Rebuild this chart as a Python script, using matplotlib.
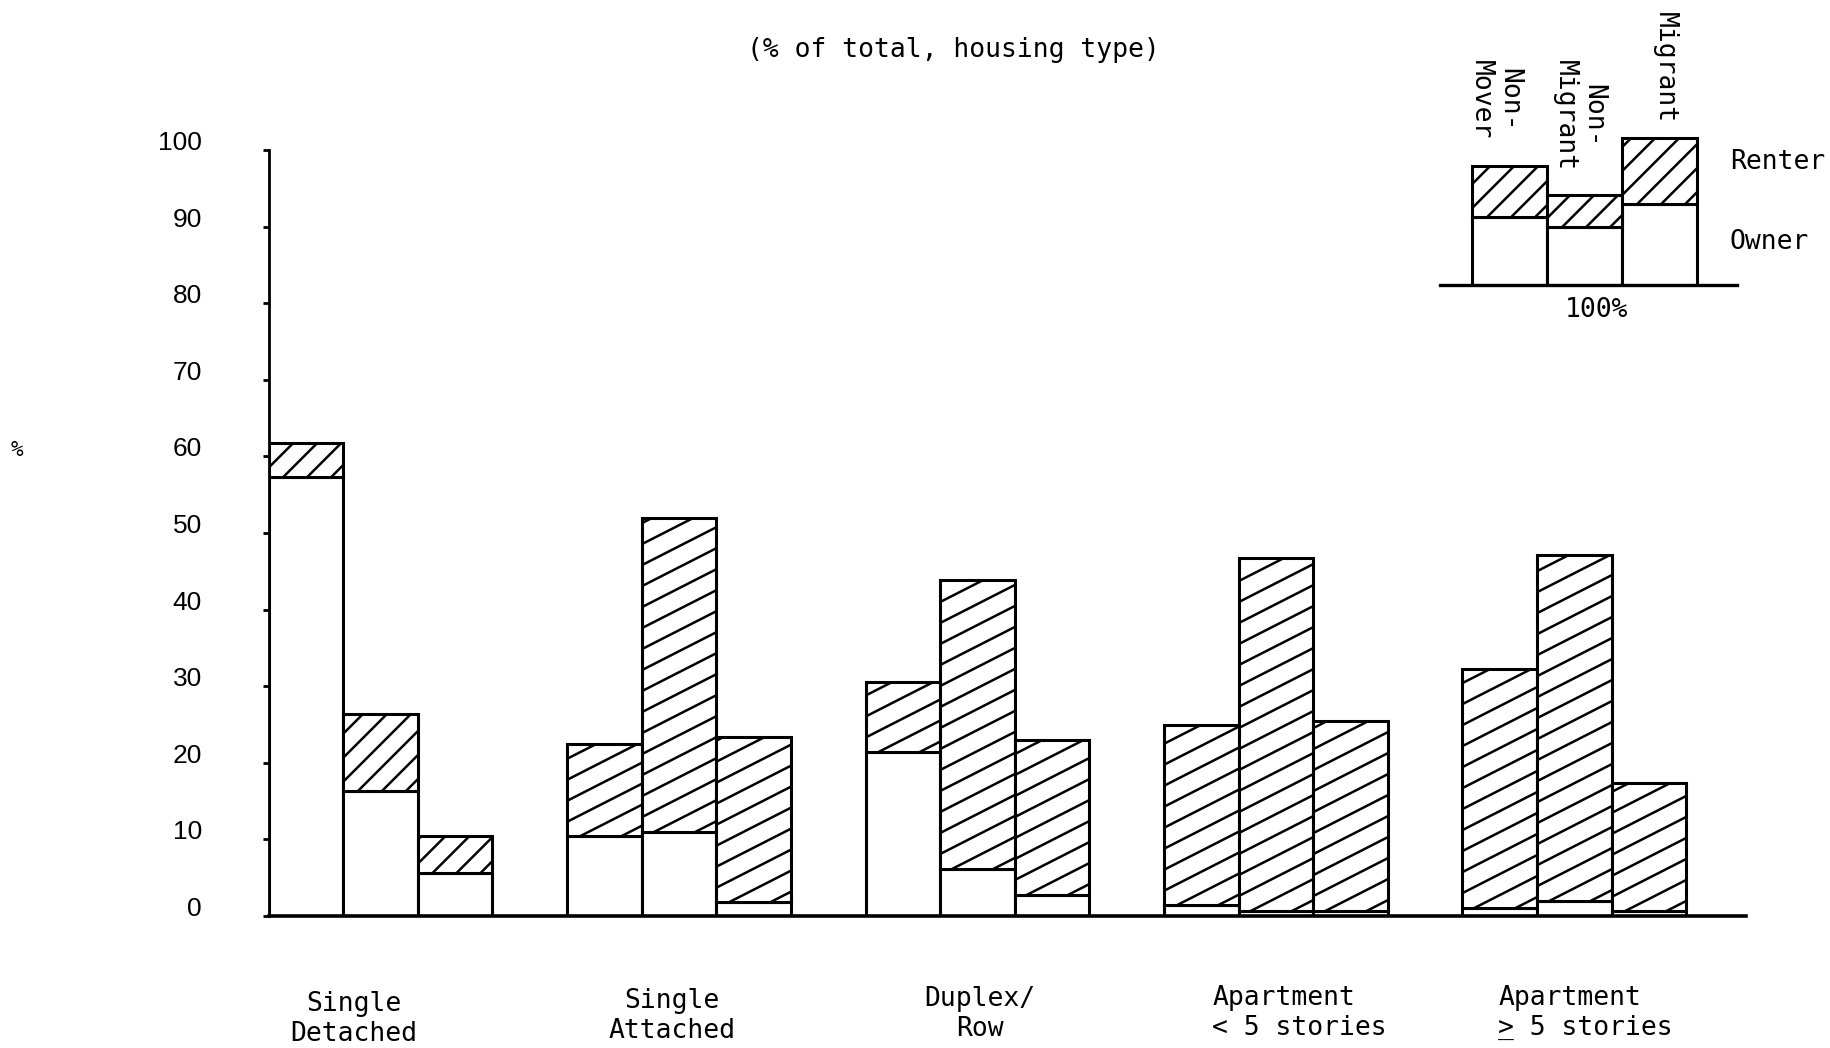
import numpy as np
import matplotlib
matplotlib.use('Agg')
import matplotlib.pyplot as plt
from matplotlib.collections import LineCollection
from matplotlib.transforms import IdentityTransform, blended_transform_factory

# Datos (% del total por tipo de vivienda)
housing_types = ['Single\nDetached', 'Single\nAttached', 'Duplex/\nRow',
                 'Apartment\n< 5 stories', 'Apartment\n> 5 stories']
nonmover_total = [61.8, 22.4, 30.6, 24.9, 32.2]
nonmover_owner = [57.3, 10.4, 21.4, 1.4, 1.1]
nonmigrant_total = [26.4, 51.9, 43.8, 46.7, 47.1]
nonmigrant_owner = [16.3, 11.0, 6.2, 0.7, 2.0]
migrant_total = [10.5, 23.4, 23.0, 25.4, 17.3]
migrant_owner = [5.6, 1.8, 2.8, 0.7, 0.6]
y_ticks = [0, 10, 20, 30, 40, 50, 60, 70, 80, 90, 100]

# Leyenda esquematica
legend_groups = ['Non-\nMover', 'Non-\nMigrant', 'Migrant']
legend_owner = [68, 58, 81]
legend_total = [119, 90, 147]

MONO = 'DejaVu Sans Mono'
W, H = 1831, 1048


def fx(px):
    return px / W


def fy(py):
    return 1 - py / H


def hatch(ax, patch, angle, spacing, lw=1.8):
    # rayado manual, recortado a la barra
    bb = patch.get_window_extent()
    x0, y0, x1, y1 = bb.x0, bb.y0, bb.x1, bb.y1
    t = np.tan(np.radians(angle))
    cs = np.arange(-t * (x1 - x0) + spacing * 0.5, (y1 - y0) + spacing, spacing)
    segs = [[(x0, y0 + c), (x1, y0 + c + t * (x1 - x0))] for c in cs]
    lc = LineCollection(segs, colors='black', linewidths=lw,
                        transform=IdentityTransform())
    ax.add_collection(lc, autolim=False)
    # despues de add_collection, si no se pierde el recorte
    lc.set_clip_path(patch)


fig = plt.figure(figsize=(18.31, 10.48), dpi=100)

# Grafico principal
ax = fig.add_axes([fx(268.6), fy(916), fx(1746) - fx(268.6), (916 - 150) / H])
ax.set_facecolor('none')
ax.set_xlim(0, 19.8)
ax.set_ylim(0, 100)

series = [(nonmover_total, nonmover_owner),
          (nonmigrant_total, nonmigrant_owner),
          (migrant_total, migrant_owner)]
renter_patches = []
for j, (total, owner) in enumerate(series):
    xs = np.arange(len(housing_types)) * 4 + j
    renter = np.array(total) - np.array(owner)
    ax.bar(xs, owner, width=1, align='edge', facecolor='white',
           edgecolor='black', linewidth=2.2)
    bars = ax.bar(xs, renter, bottom=owner, width=1, align='edge',
                  facecolor='white', edgecolor='black', linewidth=2.2)
    for g, b in enumerate(bars):
        renter_patches.append((g, b))

for g, b in renter_patches:
    if g == 0:
        hatch(ax, b, 45, 24)
    else:
        hatch(ax, b, 27, 21)

for s in ['top', 'right']:
    ax.spines[s].set_visible(False)
ax.spines['left'].set_linewidth(2)
ax.spines['bottom'].set_linewidth(2.6)
ax.set_xticks([])
ax.set_yticks(y_ticks)
ax.tick_params(axis='y', direction='out', length=4, width=2, pad=44,
               labelsize=19)
for lab in ax.get_yticklabels():
    lab.set_family('Liberation Sans')
    lab.set_va('baseline')

# Etiquetas de categorias
label_x = [1.14, 5.40, 9.53, 12.65, 16.48]
label_ha = ['center', 'center', 'center', 'left', 'left']
label_top = [991, 988, 986, 985, 985]
trans = blended_transform_factory(ax.transData, fig.transFigure)
for name, x, ha, top in zip(housing_types, label_x, label_ha, label_top):
    ax.text(x, fy(top), name, transform=trans, ha=ha, va='top',
            family=MONO, fontsize=19, linespacing=1.2)
# subrayado del ">" (mayor o igual)
ax.text(label_x[4], fy(label_top[4]), ' \n_', transform=trans, ha='left',
        va='top', family=MONO, fontsize=19, linespacing=1.2)

fig.text(fx(953), fy(50), '(% of total, housing type)', ha='center',
         va='center', family=MONO, fontsize=19)
fig.text(fx(17), fy(450), '%', ha='center', va='center', family=MONO,
         fontsize=15)

# Leyenda (recuadro superior derecho)
lax = fig.add_axes([fx(1440), fy(285), fx(1737) - fx(1440), 150 / H])
lax.set_facecolor('none')
lax.set_xlim(-0.43, 3.53)
lax.set_ylim(0, 150)
lx = np.arange(len(legend_groups))
lren = np.array(legend_total) - np.array(legend_owner)
lax.bar(lx, legend_owner, width=1, align='edge', facecolor='white',
        edgecolor='black', linewidth=2.2)
lbars = lax.bar(lx, lren, bottom=legend_owner, width=1, align='edge',
                facecolor='white', edgecolor='black', linewidth=2.2)
for b in lbars:
    hatch(lax, b, 45, 24)
for s in ['top', 'right', 'left']:
    lax.spines[s].set_visible(False)
lax.spines['bottom'].set_linewidth(2.4)
lax.set_xticks([])
lax.set_yticks([])

leg_label_x = [1495, 1579, 1665]
leg_label_top = [60, 60, 12]
for name, x, top in zip(legend_groups, leg_label_x, leg_label_top):
    fig.text(fx(x), fy(top), name, rotation=270, ha='center', va='top',
             family=MONO, fontsize=19, linespacing=1.1)
fig.text(fx(1730), fy(162), 'Renter', ha='left', va='center', family=MONO,
         fontsize=19)
fig.text(fx(1730), fy(242), 'Owner', ha='left', va='center', family=MONO,
         fontsize=19)
fig.text(fx(1597), fy(310), '100%', ha='center', va='center', family=MONO,
         fontsize=19)

fig.savefig('out.png', dpi=100, facecolor='white')
